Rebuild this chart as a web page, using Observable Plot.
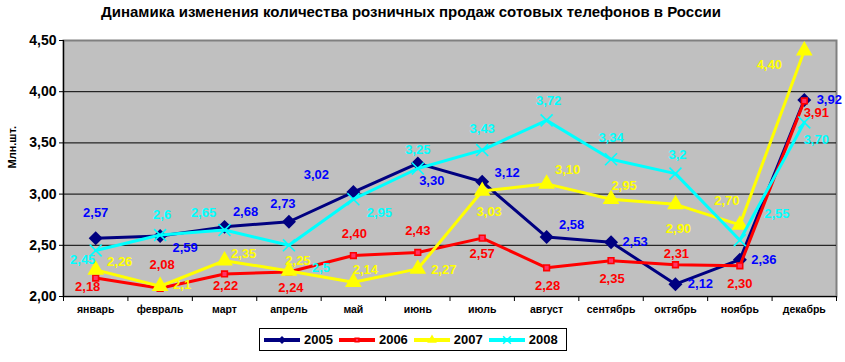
<!DOCTYPE html>
<html><head><meta charset="utf-8">
<script src="https://cdn.jsdelivr.net/npm/d3@7"></script>
<script src="https://cdn.jsdelivr.net/npm/@observablehq/plot@0.6"></script>
<style>
body{margin:0;background:#fff;font-family:"Liberation Sans",Arial,sans-serif;}
#wrap{position:relative;width:845px;height:362px;overflow:hidden;}
#title{position:absolute;top:3px;left:0;width:822px;text-align:center;font-weight:bold;font-size:15px;color:#000;}
#legend{position:absolute;left:259px;top:328px;width:303px;height:21px;border:1px solid #000;background:#fff;display:flex;align-items:center;padding-left:3px;box-sizing:content-box;}
#legend .it{display:flex;align-items:center;margin-right:5px;font-weight:bold;font-size:13px;}
#legend svg{margin-right:3px;}
#chart{position:absolute;left:0;top:0;}
</style>
</head><body>
<div id="wrap">
<div id="chart"></div>
<div id="title"></div>
<div id="legend"></div>
</div>
<script>
const titleText = "Динамика изменения количества розничных продаж сотовых телефонов в России";
const yLabel = "Млн.шт.";
const months = ["январь","февраль","март","апрель","май","июнь","июль","август","сентябрь","октябрь","ноябрь","декабрь"];
const yTicks = [2.0, 2.5, 3.0, 3.5, 4.0, 4.5];
const years = ["2005","2006","2007","2008"];

const v2005 = [2.57,2.59,2.68,2.73,3.02,3.30,3.12,2.58,2.53,2.12,2.36,3.92];
const v2006 = [2.18,2.08,2.22,2.24,2.40,2.43,2.57,2.28,2.35,2.31,2.30,3.91];
const v2007 = [2.26,2.10,2.35,2.25,2.14,2.27,3.03,3.10,2.95,2.90,2.70,4.40];
const v2008 = [2.45,2.60,2.65,2.50,2.95,3.25,3.43,3.72,3.34,3.20,2.55,3.70];

const l2005 = ["2,57","2,59","2,68","2,73","3,02","3,30","3,12","2,58","2,53","2,12","2,36","3,92"];
const l2006 = ["2,18","2,08","2,22","2,24","2,40","2,43","2,57","2,28","2,35","2,31","2,30","3,91"];
const l2007 = ["2,26","2,1","2,35","2,25","2,14","2,27","3,03","3,10","2,95","2,90","2,70","4,40"];
const l2008 = ["2,45","2,6","2,65","2,5","2,95","3,25","3,43","3,72","3,34","3,2","2,55","3,70"];

// label placement (pixel offsets from the point), layout only
const off2005 = [[0,-25],[25,12],[21,-15],[-6,-18],[-37,-17],[14,17],[25,-9],[25,-12],[24,0],[25,0],[24,0],[25,0]];
const off2006 = [[-8,9],[2,-23],[1,12],[2,16],[1,-22],[0,-22],[0,16],[1,18],[1,18],[1,-11],[0,18],[12,12]];
const off2007 = [[24,-8],[22,-1],[19,-7],[9,-10],[12,-12],[26,1],[7,21],[21,-14],[13,-13],[3,24],[-13,-24],[-35,14]];
const off2008 = [[-13,9],[2,-20],[-21,-17],[32,23],[26,14],[0,-19],[0,-21],[2,-20],[0,-21],[2,-19],[37,-26],[12,17]];

const styles = {
  "2005": {line:"#000080", label:"#0000FF", symbol:"diamond2", r:6.3, fill:"#000080", stroke:"none"},
  "2006": {line:"#FF0000", label:"#FF0000", symbol:"square", r:3.2, fill:"#FF3366", stroke:"#FF0000"},
  "2007": {line:"#FFFF00", label:"#FFFF00", symbol:"triangle", r:6.2, fill:"#FFFF00", stroke:"none"},
  "2008": {line:"#00FFFF", label:"#00FFFF", symbol:"times", r:5.5, fill:"none", stroke:"#00FFFF"}
};
const seriesVals = {"2005":v2005,"2006":v2006,"2007":v2007,"2008":v2008};
const seriesLab = {"2005":l2005,"2006":l2006,"2007":l2007,"2008":l2008};
const seriesOff = {"2005":off2005,"2006":off2006,"2007":off2007,"2008":off2008};

const rows = {};
for (const y of years) rows[y] = months.map((m,i)=>({i, v:seriesVals[y][i], lab:seriesLab[y][i], dx:seriesOff[y][i][0], dy:seriesOff[y][i][1]}));

const fmt = d => d.toFixed(2).replace(".", ",");
const bounds = months.map((m,i)=>i-0.5).concat([months.length-0.5]);

const marks = [
  Plot.frame({fill:"#C0C0C0"}),
  Plot.frame({stroke:"#808080", strokeWidth:2}),
  Plot.ruleY(yTicks.filter(t=>t>yTicks[0] && t<yTicks[yTicks.length-1]), {stroke:"#000", strokeWidth:1}),
  Plot.ruleX([bounds[0]], {stroke:"#000", strokeWidth:1.2}),
  Plot.ruleY([yTicks[0]], {stroke:"#000", strokeWidth:1.2}),
  Plot.axisY({ticks:yTicks, tickFormat:fmt, tickSize:4, tickPadding:3, fontSize:14, fontWeight:"bold", label:null, stroke:"#000"}),
  Plot.axisX({ticks:months.map((m,i)=>i), tickFormat:i=>months[i], tickSize:0, tickPadding:9, fontSize:10.5, fontWeight:"bold", label:null}),
  Plot.axisX({ticks:bounds, tickFormat:()=>"", tickSize:5, label:null, stroke:"#000"}),
  Plot.text([yLabel], {frameAnchor:"left", dx:-51, rotate:-90, text:d=>d, fontSize:11, fontWeight:"bold", fill:"#000"})
];
for (const y of years) {
  const s = styles[y];
  marks.push(Plot.line(rows[y], {x:"i", y:"v", stroke:s.line, strokeWidth:3}));
  marks.push(Plot.dot(rows[y], {x:"i", y:"v", symbol:()=>s.symbol, r:s.r, fill:s.fill, stroke:s.stroke, strokeWidth:1.6}));
}
for (const y of years) {
  const s = styles[y];
  for (const d of rows[y]) {
    marks.push(Plot.text([d], {x:"i", y:"v", text:"lab", dx:d.dx, dy:d.dy, fill:s.label, fontSize:13, fontWeight:"bold"}));
  }
}

const chart = Plot.plot({
  width:845, height:362,
  marginLeft:63, marginRight:9, marginTop:40, marginBottom:66,
  style:{fontFamily:"Liberation Sans, Arial, sans-serif", background:"transparent", color:"#000"},
  x:{type:"linear", domain:[bounds[0], bounds[bounds.length-1]]},
  y:{domain:[yTicks[0], yTicks[yTicks.length-1]]},
  symbol:{type:"identity"},
  marks
});
document.getElementById("chart").appendChild(chart);
document.getElementById("title").textContent = titleText;

const leg = document.getElementById("legend");
for (const y of years) {
  const s = styles[y];
  const it = document.createElement("div"); it.className="it";
  const sym = d3.symbol().type({diamond2:d3.symbolDiamond2, square:d3.symbolSquare, triangle:d3.symbolTriangle, times:d3.symbolTimes}[s.symbol]).size(s.symbol==="square"?14:40)();
  it.innerHTML = `<svg width="38" height="14"><line x1="1" x2="37" y1="7" y2="7" stroke="${s.line}" stroke-width="4"/><path d="${sym}" transform="translate(19,7)" fill="${s.fill}" stroke="${s.stroke}" stroke-width="1.5"/></svg><span>${y}</span>`;
  leg.appendChild(it);
}
</script>
</body></html>
